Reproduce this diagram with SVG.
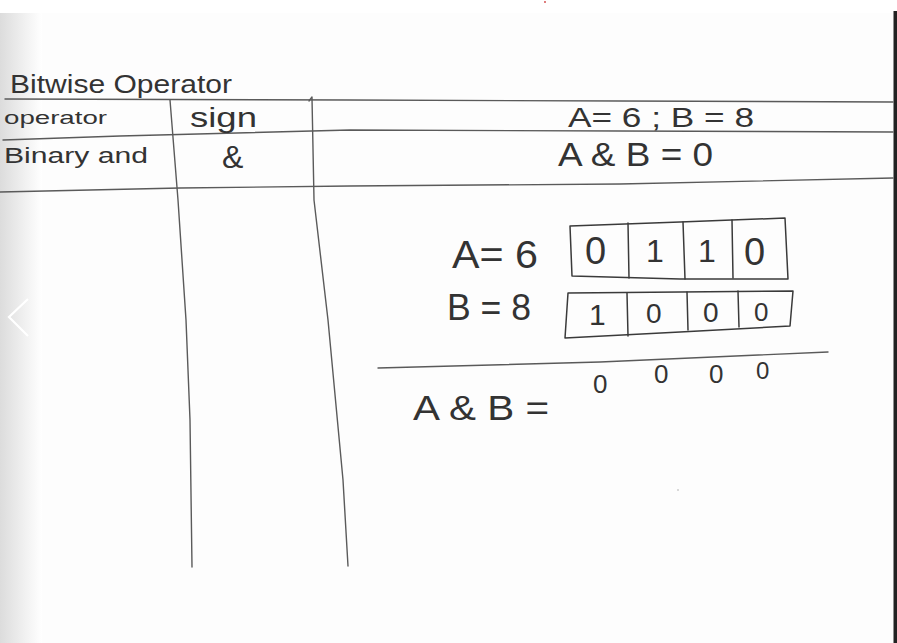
<svg xmlns="http://www.w3.org/2000/svg" width="897" height="643" viewBox="0 0 897 643">
<defs>
<linearGradient id="lg" x1="0" y1="0" x2="1" y2="0">
<stop offset="0" stop-color="#dcdcdc"/>
<stop offset="1" stop-color="#ffffff"/>
</linearGradient>
<style>
.ln{fill:none;stroke:#5a5a5a;stroke-width:1.4;stroke-linecap:round;stroke-linejoin:round}
.bx{fill:none;stroke:#3a3a3a;stroke-width:1.5;stroke-linecap:round;stroke-linejoin:round}
.t{font-family:"Liberation Sans",Arial,sans-serif;fill:#333;font-weight:normal}
</style>
</defs>
<rect x="0" y="0" width="897" height="643" fill="#ffffff"/>
<rect x="0" y="13" width="894" height="630" fill="#fdfdfd"/>
<rect x="0" y="13" width="42" height="630" fill="url(#lg)"/>
<rect x="893.5" y="11" width="3.5" height="632" fill="#222"/>
<circle cx="545" cy="2" r="0.9" fill="#d04040"/>
<circle cx="678" cy="490" r="0.8" fill="#aaa"/>
<path d="M28,299 L9,317 L28,336" fill="none" stroke="#ffffff" stroke-width="2.2"/>

<g id="table-lines">
<path class="ln" d="M5,99 L350,100 L620,101 L893,102"/>
<path class="ln" d="M3,140 L120,136 L350,130 L620,131 L893,132"/>
<path class="ln" d="M0,192 L180,188 L350,186 L620,184 L893,178"/>
<path class="ln" d="M170,100 L178,200 L186,320 L190,420 L192,567"/>
<path class="ln" d="M312,98 L314,200 L328,320 L343,480 L348,566"/>
<path class="ln" d="M309,101 L312,97"/>
</g>

<g id="header">
<text class="t" x="10" y="93" font-size="25" textLength="222" lengthAdjust="spacingAndGlyphs">Bitwise Operator</text>
<text class="t" x="4" y="124" font-size="18" textLength="103" lengthAdjust="spacingAndGlyphs">operator</text>
<text class="t" x="190" y="127" font-size="28" textLength="67" lengthAdjust="spacingAndGlyphs">sign</text>
<text class="t" x="568" y="127" font-size="28" textLength="186" lengthAdjust="spacingAndGlyphs">A= 6 ; B = 8</text>
<text class="t" x="4" y="163" font-size="22" textLength="144" lengthAdjust="spacingAndGlyphs">Binary and</text>
<text class="t" x="222" y="168" font-size="32">&amp;</text>
<text class="t" x="558" y="166" font-size="33" textLength="155" lengthAdjust="spacingAndGlyphs">A &amp; B = 0</text>
</g>

<g id="row-a">
<text class="t" x="452" y="268" font-size="38" textLength="86" lengthAdjust="spacingAndGlyphs">A= 6</text>
<path class="bx" d="M570,226 L680,222 L785,218 L788,279 L680,279 L572,276 Z"/>
<path class="bx" d="M628,223 L629,278 M683,222 L685,279 M732,220 L733,278"/>
<text class="t" x="585" y="264" font-size="38">0</text>
<text class="t" x="646" y="262" font-size="32">1</text>
<text class="t" x="698" y="262" font-size="32">1</text>
<text class="t" x="744" y="265" font-size="38">0</text>
</g>

<g id="row-b">
<text class="t" x="447" y="320" font-size="36" textLength="84" lengthAdjust="spacingAndGlyphs">B = 8</text>
<path class="bx" d="M568,293 L680,292 L793,291 L790,326 L680,332 L565,338 Z"/>
<path class="bx" d="M627,293 L628,336 M687,292 L688,330 M738,291 L739,327"/>
<text class="t" x="589" y="325" font-size="30">1</text>
<text class="t" x="646" y="323" font-size="28">0</text>
<text class="t" x="703" y="322" font-size="28">0</text>
<text class="t" x="754" y="321" font-size="26">0</text>
</g>

<g id="result">
<path class="ln" d="M378,368 L600,362 L828,352"/>
<text class="t" x="413" y="420" font-size="35" textLength="136" lengthAdjust="spacingAndGlyphs">A &amp; B =</text>
<text class="t" x="593" y="393" font-size="26">0</text>
<text class="t" x="654" y="383" font-size="26">0</text>
<text class="t" x="709" y="383" font-size="26">0</text>
<text class="t" x="756" y="379" font-size="24">0</text>
</g>
</svg>
